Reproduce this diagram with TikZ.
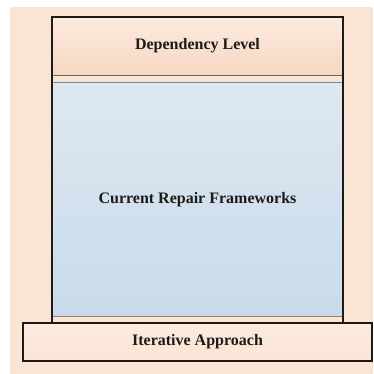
\documentclass[tikz,border=0pt]{standalone}
\usepackage{fontspec}
\setmainfont{Liberation Serif}
\usepackage{tikz}
\definecolor{layerInk}{HTML}{1E1A18}
\definecolor{layerPeach}{HTML}{FAE4D4}
\definecolor{layerPeachTop}{HTML}{FCEBE0}
\definecolor{layerPeachLow}{HTML}{F6D6C1}
\definecolor{layerBlueTop}{HTML}{DEE8F2}
\definecolor{layerBlueLow}{HTML}{C9DBEA}
\definecolor{layerSeam}{HTML}{6E6662}
\tikzset{
  every picture/.style={font=\fontsize{16}{18}\selectfont\bfseries, text=layerInk},
  layer frame/.style={draw=layerInk, line width=2pt, line join=miter},
  layer seam/.style={draw=layerSeam, line width=1.8pt},
  layer thin/.style={draw=layerSeam!80, line width=0.7pt},
  layer label/.style={inner sep=0pt, anchor=center}
}

\begin{document}
\begin{tikzpicture}[x=1pt,y=-1pt]
  \useasboundingbox (0,0) rectangle (373,374);
  \fill[layerPeach] (10,7) rectangle (373,374);
  % top band
  \shade[top color=layerPeachTop, bottom color=layerPeachLow] (52,17) rectangle (343,75);
  \draw[layer seam] (52,75.5) -- (343,75.5);
  % middle body
  \shade[top color=layerBlueTop, bottom color=layerBlueLow] (52,82) rectangle (343,316);
  \draw[layer thin] (52,82) -- (343,82);
  \draw[layer thin] (52,316) -- (343,316);
  % base plate
  \shade[top color=layerPeachTop, bottom color=layerPeach] (23,323) rectangle (372,361);
  \draw[layer frame] (23,323) rectangle (372,361);
  \draw[layer frame] (52,323) -- (52,17) -- (343,17) -- (343,323);
  \node[layer label] (dep) at (197.5,46) {Dependency Level};
  \node[layer label] (crf) at (197.5,200) {Current Repair Frameworks};
  \node[layer label] (iter) at (197.5,342) {Iterative Approach};
\end{tikzpicture}
\end{document}
